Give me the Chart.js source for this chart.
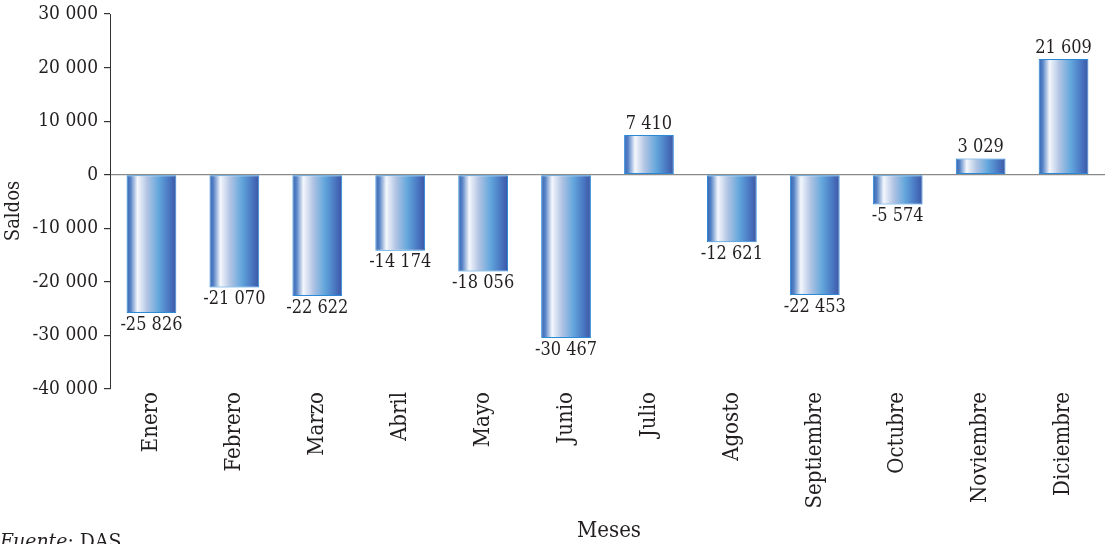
<!DOCTYPE html>
<html>
<head>
<meta charset="utf-8">
<script src="https://cdn.jsdelivr.net/npm/chart.js@4/dist/chart.umd.min.js"></script>
<style>
html,body{margin:0;padding:0;background:#fff;}
#wrap{width:1107px;height:544px;position:relative;overflow:hidden;}
</style>
</head>
<body>
<div id="wrap"><canvas id="c" width="1107" height="544"></canvas></div>
<script>
const months = ['Enero','Febrero','Marzo','Abril','Mayo','Junio','Julio','Agosto','Septiembre','Octubre','Noviembre','Diciembre'];
const saldos = [-25826,-21070,-22622,-14174,-18056,-30467,7410,-12621,-22453,-5574,3029,21609];
const yMin = -40000;
const yMax = 30000;
const yStep = 10000;
const yTitle = 'Saldos';
const xTitle = 'Meses';
const sourceLabel = 'Fuente';
const sourceText = ': DAS';

const SERIF = '"DejaVu Serif Condensed", "DejaVu Serif", "Liberation Serif", serif';
const TEXT = '#231f20';

function fmt(v){
  const s = Math.abs(v).toString().replace(/\B(?=(\d{3})+(?!\d))/g, ' ');
  return (v < 0 ? '-' : '') + s;
}

function barGradient(context){
  const chart = context.chart;
  const xs = chart.scales && chart.scales.x;
  if (!xs || !chart.chartArea) return '#4a7cc4';
  const cx = xs.getPixelForValue(context.dataIndex);
  const w = (xs.width / months.length) * 0.6;
  const x0 = cx - w / 2, x1 = cx + w / 2;
  const g = chart.ctx.createLinearGradient(x0, 0, x1, 0);
  g.addColorStop(0.0, '#3462b2');
  g.addColorStop(0.08, '#5683c6');
  g.addColorStop(0.22, '#f4f7fc');
  g.addColorStop(0.42, '#b0c3e3');
  g.addColorStop(0.65, '#62a6dc');
  g.addColorStop(0.85, '#4a78c2');
  g.addColorStop(1.0, '#3b55a4');
  return g;
}

const labelsPlugin = {
  id: 'valueLabels',
  afterDatasetsDraw(chart){
    const ctx = chart.ctx;
    const meta = chart.getDatasetMeta(0);
    ctx.save();
    ctx.font = '18px ' + SERIF;
    ctx.fillStyle = TEXT;
    ctx.textAlign = 'center';
    meta.data.forEach((bar, i) => {
      const v = saldos[i];
      if (v >= 0) {
        ctx.textBaseline = 'bottom';
        ctx.fillText(fmt(v), bar.x, bar.y - 2);
      } else {
        ctx.textBaseline = 'top';
        ctx.fillText(fmt(v), bar.x, bar.y + 3);
      }
    });
    ctx.restore();
  }
};

const titlesPlugin = {
  id: 'titles',
  afterDraw(chart){
    const ctx = chart.ctx;
    ctx.save();
    ctx.fillStyle = TEXT;
    ctx.font = '20px ' + SERIF;
    ctx.translate(19, 211);
    ctx.rotate(-Math.PI / 2);
    ctx.textAlign = 'center';
    ctx.textBaseline = 'alphabetic';
    ctx.fillText(yTitle, 0, 0);
    ctx.restore();

    ctx.save();
    ctx.fillStyle = TEXT;
    ctx.font = '22px ' + SERIF;
    ctx.textAlign = 'center';
    ctx.textBaseline = 'alphabetic';
    ctx.fillText(xTitle, 609, 537);

    ctx.textAlign = 'left';
    ctx.font = 'italic 21px ' + SERIF;
    ctx.fillText(sourceLabel, 0, 548);
    const w = ctx.measureText(sourceLabel).width;
    ctx.font = '21px ' + SERIF;
    ctx.fillText(sourceText, w, 548);
    ctx.restore();
  }
};

new Chart(document.getElementById('c'), {
  type: 'bar',
  data: {
    labels: months,
    datasets: [{
      data: saldos,
      backgroundColor: barGradient,
      borderColor: '#2a8ad8',
      borderWidth: 1,
      borderSkipped: false,
      barPercentage: 0.6,
      categoryPercentage: 1.0
    }]
  },
  options: {
    responsive: false,
    animation: false,
    events: [],
    layout: { padding: { left: 0, right: 2, top: 0, bottom: 0 } },
    plugins: { legend: { display: false }, tooltip: { enabled: false } },
    scales: {
      x: {
        offset: true,
        grid: { display: false, drawTicks: false },
        border: { display: false },
        ticks: {
          minRotation: 90, maxRotation: 90, autoSkip: false,
          padding: 3,
          color: TEXT,
          font: { family: SERIF, size: 22 }
        },
        afterFit(scale){ scale.height = 155; }
      },
      y: {
        min: yMin, max: yMax,
        grid: {
          drawOnChartArea: true,
          drawTicks: true,
          tickLength: 6,
          tickColor: '#333',
          lineWidth: 1.2,
          color: (c) => (c.tick && c.tick.value === 0) ? '#8a8a8a' : 'rgba(0,0,0,0)'
        },
        border: { display: true, color: '#333', width: 1 },
        ticks: {
          stepSize: yStep,
          padding: 6,
          color: TEXT,
          font: { family: SERIF, size: 19 },
          callback: (v) => fmt(v)
        },
        afterFit(scale){ scale.width = 110; scale.paddingTop = 14; scale.paddingBottom = 0; }
      }
    }
  },
  plugins: [labelsPlugin, titlesPlugin]
});
</script>
</body>
</html>
